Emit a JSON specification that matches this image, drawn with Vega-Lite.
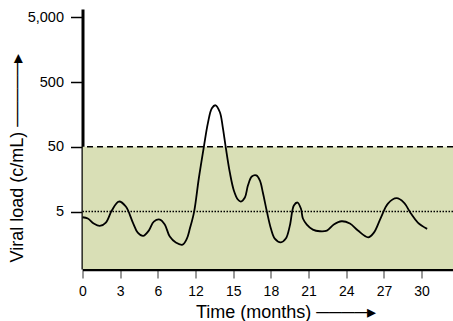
{
  "$schema": "https://vega.github.io/schema/vega-lite/v6.json",
  "width": 370.5,
  "height": 260,
  "autosize": {"type": "none"},
  "padding": {"left": 82.5, "top": 9, "right": 0, "bottom": 52},
  "background": "white",
  "config": {
    "view": {"stroke": null},
    "font": "Liberation Sans",
    "axis": {"grid": false, "labelColor": "black", "titleColor": "black", "titleFontWeight": "normal"}
  },
  "datasets": {
    "band": [{"t0": 0, "t1": 29.5, "low": 0.648, "high": 50}],
    "levels": [{"level": 50, "style": "dashed"}, {"level": 5, "style": "dotted"}],
    "curve": [
      {"t": 0.0, "load": 4.08}, {"t": 0.42, "load": 3.9}, {"t": 0.9, "load": 3.26}, {"t": 1.38, "load": 3.0},
      {"t": 1.86, "load": 3.38}, {"t": 2.33, "load": 5.18}, {"t": 2.89, "load": 7.14}, {"t": 3.45, "load": 5.98},
      {"t": 4.01, "load": 3.38}, {"t": 4.4, "load": 2.36}, {"t": 4.83, "load": 2.1}, {"t": 5.28, "load": 2.54},
      {"t": 5.68, "load": 3.5}, {"t": 6.16, "load": 3.76}, {"t": 6.55, "load": 3.15}, {"t": 6.95, "load": 2.05},
      {"t": 7.43, "load": 1.66}, {"t": 7.96, "load": 1.54}, {"t": 8.31, "load": 1.91}, {"t": 8.55, "load": 2.73},
      {"t": 8.89, "load": 5.0}, {"t": 9.26, "load": 16.2}, {"t": 9.66, "load": 49.5}, {"t": 9.98, "load": 115},
      {"t": 10.3, "load": 197}, {"t": 10.59, "load": 219}, {"t": 10.94, "load": 171}, {"t": 11.17, "load": 100},
      {"t": 11.41, "load": 48.5}, {"t": 11.73, "load": 20.1}, {"t": 12.05, "load": 10.6}, {"t": 12.37, "load": 7.67},
      {"t": 12.61, "load": 7.14}, {"t": 12.93, "load": 8.24}, {"t": 13.17, "load": 12.6}, {"t": 13.48, "load": 17.4},
      {"t": 13.84, "load": 18.1}, {"t": 14.12, "load": 15.1}, {"t": 14.36, "load": 9.85}, {"t": 14.68, "load": 5.0},
      {"t": 15.0, "load": 2.73}, {"t": 15.31, "load": 1.91}, {"t": 15.79, "load": 1.67}, {"t": 16.19, "load": 1.91},
      {"t": 16.51, "load": 3.03}, {"t": 16.83, "load": 6.19}, {"t": 17.12, "load": 6.89}, {"t": 17.39, "load": 5.57},
      {"t": 17.55, "load": 3.9}, {"t": 17.86, "load": 3.15}, {"t": 18.34, "load": 2.63}, {"t": 18.9, "load": 2.48},
      {"t": 19.46, "load": 2.54}, {"t": 20.01, "load": 3.15}, {"t": 20.63, "load": 3.54}, {"t": 21.29, "load": 3.26},
      {"t": 21.93, "load": 2.54}, {"t": 22.75, "load": 2.0}, {"t": 23.2, "load": 2.36}, {"t": 23.76, "load": 4.04},
      {"t": 24.32, "load": 6.65}, {"t": 25.01, "load": 8.04}, {"t": 25.59, "load": 6.89}, {"t": 26.15, "load": 4.66},
      {"t": 26.7, "load": 3.38}, {"t": 27.44, "load": 2.7}
    ]
  },
  "layer": [
    {
      "data": {"name": "band"},
      "mark": {"type": "rect", "color": "#d9dfb6", "clip": true},
      "encoding": {
        "x": {"field": "t0", "type": "quantitative"},
        "x2": {"field": "t1"},
        "y": {"field": "low", "type": "quantitative"},
        "y2": {"field": "high"}
      }
    },
    {
      "data": {"name": "levels"},
      "mark": {"type": "rule", "color": "black", "strokeWidth": 1.5},
      "encoding": {
        "y": {"field": "level", "type": "quantitative"},
        "strokeDash": {"field": "style", "type": "nominal", "scale": {"domain": ["dashed", "dotted"], "range": [[6, 4], [1.5, 1.5]]}, "legend": null}
      }
    },
    {
      "data": {"name": "curve"},
      "mark": {"type": "line", "color": "black", "strokeWidth": 1.8, "interpolate": "catmull-rom"},
      "encoding": {
        "x": {
          "field": "t", "type": "quantitative",
          "scale": {"domain": [0, 29.5], "nice": false, "zero": false},
          "axis": {
            "values": [0, 3, 6, 9, 12, 15, 18, 21, 24, 27],
            "labelExpr": "datum.value > 6 ? datum.value + 3 : datum.value",
            "labelFlush": false,
            "domainColor": "black", "domainWidth": 3.5,
            "tickColor": "#777777", "tickWidth": 1.5, "tickSize": 9,
            "labelFontSize": 14, "labelPadding": 6,
            "title": "Time (months)  ────▸",
            "titleFontSize": 18, "titleAlign": "left", "titleBaseline": "alphabetic",
            "titleX": 113, "titleY": 48, "titleAngle": 0
          }
        },
        "y": {
          "field": "load", "type": "quantitative",
          "scale": {"type": "log", "domain": [0.648, 6722], "nice": false},
          "axis": {
            "values": [5, 50, 500, 5000], "format": ",",
            "labelFlush": false,
            "domainColor": "black", "domainWidth": 3,
            "tickColor": "black", "tickWidth": 1.5, "tickSize": 12,
            "labelFontSize": 14.5, "labelPadding": 7,
            "title": "Viral load (c/mL)  ─────▸",
            "titleFontSize": 18, "titleAngle": -90, "titleAlign": "left", "titleBaseline": "alphabetic",
            "titleX": -60, "titleY": 253
          }
        }
      }
    }
  ]
}
